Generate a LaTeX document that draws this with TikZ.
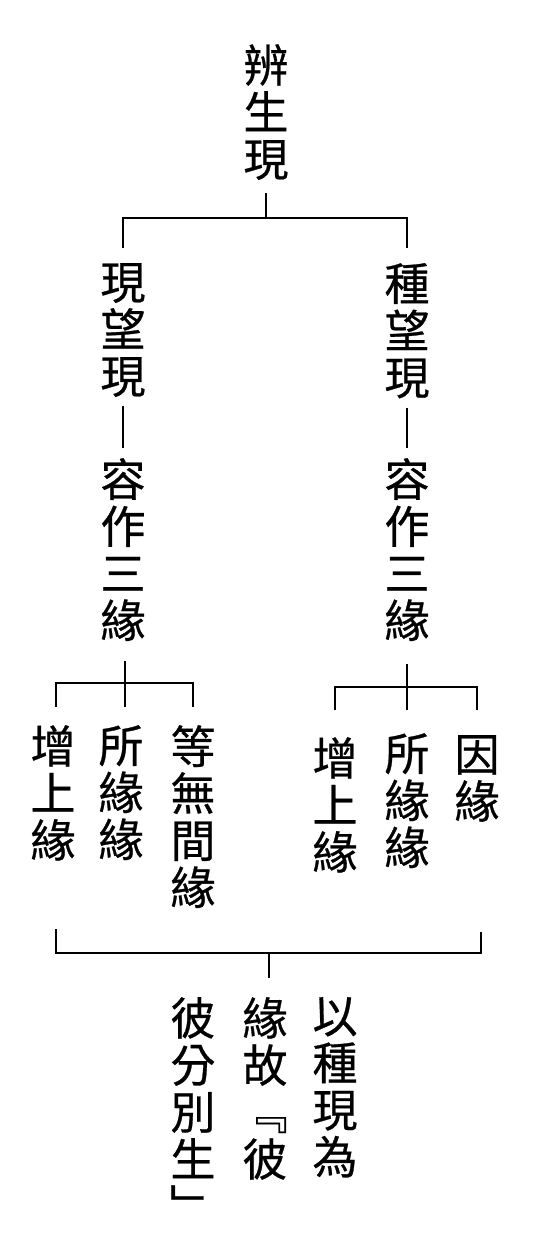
\documentclass[tikz,border=0pt]{standalone}
\usepackage{fontspec}
\newfontfamily\cjk[FakeBold=0.6]{Noto Sans CJK TC}
\tikzset{
  col/.style={font=\cjk\fontsize{45}{47}\selectfont, align=center, inner sep=0pt, anchor=north},
  ln/.style={line width=1.9pt}
}
\begin{document}
\begin{tikzpicture}[x=1pt,y=-1pt]
\useasboundingbox (0,0) rectangle (533,1256);
% nodes
\node[col] (root) at (266,44) {辨\\生\\現};
\node[col] (L1) at (123,263) {現\\望\\現};
\node[col] (R1) at (407,263) {種\\望\\現};
\node[col] (L2) at (123,458) {容\\作\\三\\緣};
\node[col] (R2) at (407,458) {容\\作\\三\\緣};
\node[col] (La) at (53,725) {增\\上\\緣};
\node[col] (Lb) at (121,725) {所\\緣\\緣};
\node[col] (Lc) at (193,725) {等\\無\\間\\緣};
\node[col] (Ra) at (335,737) {增\\上\\緣};
\node[col] (Rb) at (407,733) {所\\緣\\緣};
\node[col] (Rc) at (477,735) {因\\緣};
\node[col] (B1) at (335,997) {以\\種\\現\\為};
\node[col] (B2) at (265,997) {緣\\故\\﹃\\彼};
\node[col] (B3) at (193,997) {彼\\分\\別\\生\\﹂};
% junctions
\coordinate (j0) at (266,218);
\coordinate (j1) at (125,683);
\coordinate (j2) at (407,687);
\coordinate (j3) at (269,953);
\coordinate (bl) at (56,929);
\coordinate (br) at (481,932);
% connectors
\draw[ln, shorten <=13pt] (root.south) -- (j0);
\draw[ln, shorten <=15pt, shorten >=15pt] (L1.north) |- (j0) -| (R1.north);
\draw[ln, shorten <=9pt, shorten >=10pt] (L1.south) -- (L2.north);
\draw[ln, shorten <=9pt, shorten >=10pt] (R1.south) -- (R2.north);
\draw[ln, shorten <=20pt, shorten >=18pt] (L2.south -| j1) -- (j1 |- Lb.north);
\draw[ln, shorten <=18pt, shorten >=18pt] (La.north -| bl) |- (j1) -| (Lc.north);
\draw[ln, shorten <=23pt, shorten >=23pt] (R2.south) -- (Rb.north);
\draw[ln, shorten <=27pt, shorten >=25pt] (Ra.north) |- (j2) -| (Rc.north);
\draw[ln] (bl) |- (j3) -| (br);
\draw[ln, shorten >=19pt] (j3) -- (j3 |- B2.north);
\end{tikzpicture}
\end{document}
